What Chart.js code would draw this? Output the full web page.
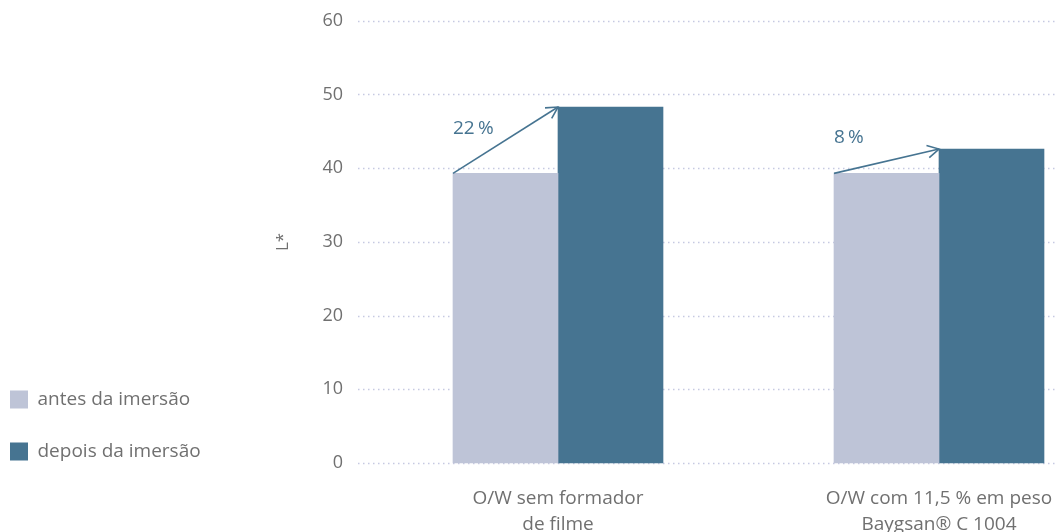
<!DOCTYPE html>
<html>
<head>
<meta charset="utf-8">
<script src="https://cdn.jsdelivr.net/npm/chart.js@4.4.0/dist/chart.umd.min.js"></script>
<style>
html, body { margin: 0; padding: 0; background: #fff; }
#wrap { width: 1061px; height: 532px; }
</style>
</head>
<body>
<div id="wrap"><canvas id="lchart"></canvas></div>
<script>
// data
var categories = [["O/W sem formador", "de filme"], ["O/W com 11,5 % em peso", "Baygsan® C 1004"]];
var seriesNames = ["antes da imersão", "depois da imersão"];
var antesValues = [39.3, 39.3];
var depoisValues = [48.3, 42.6];
var increaseLabels = ["22\u2009%", "8\u2009%"];
var increaseLabelAt = [45.4, 44.1];
var yTicks = [0, 10, 20, 30, 40, 50, 60];

var LIGHT = '#bec4d7';
var DARK = '#467491';
var TEXT = '#707070';
var FONT = "'Open Sans', 'Noto Sans', sans-serif";
var PAD_LEFT = -23;

Chart.defaults.font.family = FONT;
Chart.defaults.color = TEXT;

// dotted horizontal guides, wider than the plot area like the original
var dottedGrid = {
    id: 'dottedGrid',
    beforeDatasetsDraw: function(chart) {
        var ctx = chart.ctx;
        var y = chart.scales.y;
        var x0 = chart.chartArea.left - 200;
        var x1 = chart.chartArea.right + 118;
        ctx.save();
        ctx.strokeStyle = '#c6c9e1';
        ctx.lineWidth = 1.5;
        ctx.setLineDash([1.5, 3.5]);
        yTicks.forEach(function(v) {
            var py = Math.round(y.getPixelForValue(v)) + 0.5;
            ctx.beginPath();
            ctx.moveTo(x0, py);
            ctx.lineTo(x1, py);
            ctx.stroke();
        });
        ctx.restore();
    }
};

// arrows from the "antes" bar top to the "depois" bar top
var increaseArrows = {
    id: 'increaseArrows',
    afterDatasetsDraw: function(chart) {
        var ctx = chart.ctx;
        var a = chart.getDatasetMeta(0).data;
        var b = chart.getDatasetMeta(1).data;
        ctx.save();
        ctx.strokeStyle = DARK;
        ctx.fillStyle = DARK;
        ctx.lineWidth = 1.6;
        for (var i = 0; i < a.length; i++) {
            var sx = a[i].x - a[i].width / 2;
            var sy = a[i].y;
            var ex = b[i].x - b[i].width / 2;
            var ey = b[i].y;
            ctx.beginPath();
            ctx.moveTo(sx, sy);
            ctx.lineTo(ex, ey);
            ctx.stroke();
            var ang = Math.atan2(ey - sy, ex - sx);
            var len = 13, spread = 0.5;
            ctx.beginPath();
            ctx.moveTo(ex - len * Math.cos(ang - spread), ey - len * Math.sin(ang - spread));
            ctx.lineTo(ex, ey);
            ctx.lineTo(ex - len * Math.cos(ang + spread), ey - len * Math.sin(ang + spread));
            ctx.stroke();

            ctx.font = '19px ' + FONT;
            ctx.textAlign = 'left';
            ctx.textBaseline = 'middle';
            ctx.fillText(increaseLabels[i], sx, chart.scales.y.getPixelForValue(increaseLabelAt[i]));
        }
        ctx.restore();
    }
};

var ctx = document.getElementById('lchart').getContext('2d');
var lChart = new Chart(ctx, {
    type: 'bar',
    data: {
        labels: categories,
        datasets: [{
            label: seriesNames[0],
            data: antesValues,
            backgroundColor: LIGHT,
            clip: false
        }, {
            label: seriesNames[1],
            data: depoisValues,
            backgroundColor: DARK,
            clip: false
        }]
    },
    options: {
        responsive: true,
        maintainAspectRatio: false,
        animation: false,
        barThickness: 105,
        layout: {
            padding: { top: 19, right: 122, bottom: 38, left: PAD_LEFT }
        },
        plugins: {
            tooltip: { enabled: false },
            legend: {
                position: 'left',
                align: 'end',
                labels: {
                    boxWidth: 18,
                    boxHeight: 18,
                    padding: 33,
                    color: TEXT,
                    font: { size: 19, family: FONT }
                }
            }
        },
        scales: {
            x: {
                offset: false,
                grid: { display: false, drawTicks: true, tickLength: 23 },
                border: { display: false },
                ticks: {
                    padding: 0,
                    maxRotation: 0,
                    autoSkip: false,
                    color: TEXT,
                    font: { size: 19, family: FONT, lineHeight: 1.35 }
                },
                afterFit: function(scale) {
                    scale.height = 31;
                    // the two-line labels hang below the axis box, into the bottom padding
                    scale._computeLabelArea = function() { return undefined; };
                }
            },
            y: {
                min: 0,
                max: 60,
                grid: { display: false, drawTicks: true, tickLength: 205 },
                border: { display: false },
                afterBuildTicks: function(scale) {
                    scale.ticks = yTicks.map(function(v) { return { value: v }; });
                },
                ticks: {
                    padding: 10,
                    color: TEXT,
                    font: { size: 18, family: FONT }
                },
                title: {
                    display: true,
                    text: 'L*',
                    color: TEXT,
                    font: { size: 17, family: FONT },
                    padding: { top: 62, bottom: 0 }
                },
                afterFit: function(scale) {
                    var lw = scale.chart.legend ? scale.chart.legend.width : 0;
                    scale.width = 558 - PAD_LEFT - lw;
                }
            }
        }
    },
    plugins: [dottedGrid, increaseArrows]
});
</script>
</body>
</html>
